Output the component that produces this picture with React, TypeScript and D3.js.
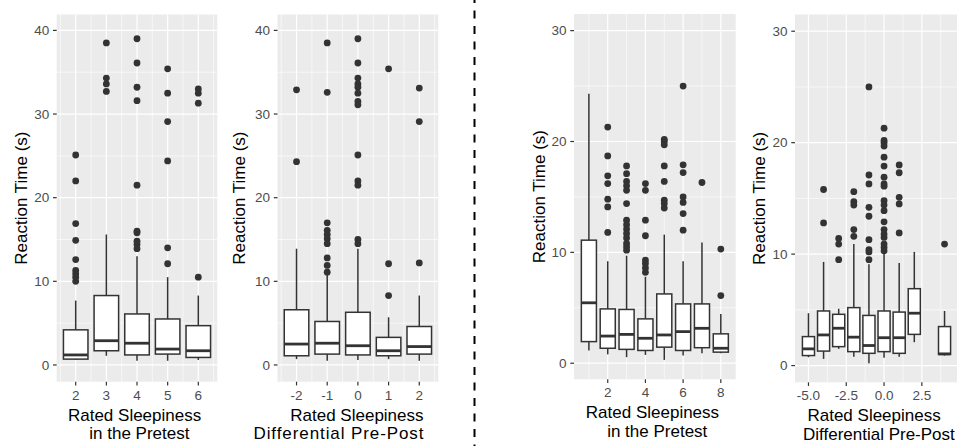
import React from 'react';
import * as d3 from 'd3';

// left figure, panel 1: sleepiness in the pretest
const p1Cats = [2, 3, 4, 5, 6];
const p1Low = [0.6, 1.1, 0.5, 0.5, 0.6];
const p1Q1 = [0.7, 1.7, 1.2, 1.3, 0.9];
const p1Med = [1.2, 2.9, 2.6, 1.9, 1.7];
const p1Q3 = [4.2, 8.3, 6.1, 5.5, 4.7];
const p1High = [7.7, 15.6, 13.0, 10.5, 8.3];
const p1Out = [
  [25.1, 22.0, 16.9, 14.9, 12.6, 11.3, 10.9, 10.5, 10.0],
  [38.5, 34.3, 33.6, 32.7],
  [39.0, 36.1, 33.2, 31.6, 21.5, 16.0, 15.8, 14.8, 14.4, 13.9],
  [35.4, 32.5, 29.1, 24.4, 14.0, 12.1],
  [33.0, 32.5, 31.3, 10.5],
];

// left figure, panel 2: differential pre-post
const p2Cats = [-2, -1, 0, 1, 2];
const p2Low = [0.7, 0.5, 0.6, 0.7, 0.5];
const p2Q1 = [1.1, 1.3, 1.2, 1.1, 1.3];
const p2Med = [2.5, 2.6, 2.3, 1.7, 2.2];
const p2Q3 = [6.6, 5.2, 6.3, 3.3, 4.6];
const p2High = [13.9, 10.8, 13.9, 5.7, 8.3];
const p2Out = [
  [32.9, 24.3],
  [38.5, 32.6, 17.0, 16.1, 15.6, 15.1, 14.5, 12.8, 11.9, 11.1],
  [39.0, 36.1, 34.3, 33.6, 33.2, 32.5, 31.5, 31.1, 25.1, 22.0, 21.5, 15.0, 14.5],
  [35.4, 12.1, 8.3],
  [33.1, 29.1, 12.2],
];

// right figure, panel 3: sleepiness in the pretest
const p3Cats = [1, 2, 3, 4, 5, 6, 7, 8];
const p3Low = [1.15, 0.8, 0.55, 0.75, 0.3, 0.7, 0.9, 0.9];
const p3Q1 = [1.95, 1.35, 1.25, 1.15, 1.45, 1.15, 1.4, 1.0];
const p3Med = [5.45, 2.45, 2.6, 2.25, 2.55, 2.85, 3.15, 1.35];
const p3Q3 = [11.1, 4.9, 4.85, 4.0, 6.25, 5.35, 5.35, 2.65];
const p3High = [24.3, 9.2, 9.7, 7.8, 11.6, 9.2, 10.9, 4.45];
const p3Out = [
  [],
  [21.3, 18.7, 16.9, 16.2, 14.8, 14.1, 11.8],
  [17.8, 17.1, 16.4, 16.0, 15.6, 14.4, 12.9, 12.5, 12.1, 11.7, 11.3, 10.8, 10.5, 10.2],
  [16.2, 15.6, 12.9, 11.5, 9.3, 9.0, 8.6, 8.2],
  [20.2, 20.0, 19.7, 17.8, 16.4, 14.7, 14.4, 14.0],
  [25.0, 17.9, 17.2, 15.0, 14.5, 13.5, 12.0],
  [16.3],
  [10.3, 6.1],
];

// right figure, panel 4: differential pre-post
const p4Cats = [-5, -4, -3, -2, -1, 0, 1, 2, 4];
const p4Low = [0.75, 0.6, 1.5, 0.8, 0.2, 0.7, 0.8, 2.1, 0.9];
const p4Q1 = [0.9, 1.3, 1.7, 1.25, 1.1, 1.25, 1.1, 2.8, 1.0];
const p4Med = [1.5, 2.75, 3.35, 2.55, 1.8, 2.5, 2.5, 4.7, 1.05];
const p4Q3 = [2.6, 4.9, 4.6, 5.2, 4.5, 4.9, 4.8, 6.9, 3.5];
const p4High = [4.7, 9.3, 5.1, 10.9, 9.1, 10.1, 9.2, 10.2, 4.9];
const p4Out = [
  [],
  [15.8, 12.8],
  [11.4, 10.9, 9.5],
  [15.6, 14.7, 14.4, 12.2, 11.6],
  [25.0, 17.1, 16.3, 14.2, 13.4, 11.3, 10.4, 10.2, 9.5],
  [21.3, 20.2, 20.0, 19.7, 18.7, 17.9, 16.9, 16.3, 16.1, 14.8, 14.4, 13.9, 12.9, 12.2, 11.8, 11.5, 10.9, 10.6, 10.3],
  [18.0, 17.3, 15.1, 14.5, 11.9],
  [],
  [10.9],
];

const p1XTicks = [2, 3, 4, 5, 6];
const p2XTicks = [-2, -1, 0, 1, 2];
const p3XTicks = [2, 4, 6, 8];
const p4XTicks = [-5, -2.5, 0, 2.5];
const leftYTicks = [0, 10, 20, 30, 40];
const rightYTicks = [0, 10, 20, 30];

const yTitle = 'Reaction Time (s)';
const titlePretest = ['Rated Sleepiness', 'in the Pretest'];
const titleDiff = ['Rated Sleepiness', 'Differential Pre-Post'];

const W = 957;
const H = 446;
const FONT = "'Liberation Sans', Arial, Helvetica, sans-serif";
const INK = '#333333';

const intFmt = (d: number) => String(d);
const decFmt = (d: number) => d.toFixed(1);

function minors(ticks: number[], domain: number[]) {
  const step = ticks[1] - ticks[0];
  const out: number[] = [];
  for (let v = ticks[0] - step / 2; v <= ticks[ticks.length - 1] + step / 2 + 1e-9; v += step) {
    if (v > domain[0] && v < domain[1]) out.push(v);
  }
  return out;
}

const panels = [
  { cats: p1Cats, low: p1Low, q1: p1Q1, med: p1Med, q3: p1Q3, high: p1High, out: p1Out,
    xTicks: p1XTicks, fmt: intFmt, yTicks: leftYTicks, xDomain: [1.38, 6.62], yDomain: [-2, 41.9],
    left: 56.7, right: 217.3, top: 14.5, bottom: 381.7, yTitleX: 21, title: titlePretest,
    titleDx: [-2.4, 2.4], titleLen: [0, 0] },
  { cats: p2Cats, low: p2Low, q1: p2Q1, med: p2Med, q3: p2Q3, high: p2High, out: p2Out,
    xTicks: p2XTicks, fmt: intFmt, yTicks: leftYTicks, xDomain: [-2.62, 2.62], yDomain: [-2, 41.9],
    left: 277.5, right: 438.3, top: 14.5, bottom: 381.7, yTitleX: 239, title: titleDiff,
    titleDx: [-1, -19.4], titleLen: [0, 170] },
  { cats: p3Cats, low: p3Low, q1: p3Q1, med: p3Med, q3: p3Q3, high: p3High, out: p3Out,
    xTicks: p3XTicks, fmt: intFmt, yTicks: rightYTicks, xDomain: [0.21, 8.79], yDomain: [-1.45, 31.5],
    left: 574, right: 735.7, top: 14, bottom: 379.3, yTitleX: 539, title: titlePretest,
    titleDx: [-2.4, 2.4], titleLen: [0, 0] },
  { cats: p4Cats, low: p4Low, q1: p4Q1, med: p4Med, q3: p4Q3, high: p4High, out: p4Out,
    xTicks: p4XTicks, fmt: decFmt, yTicks: rightYTicks, xDomain: [-5.89, 4.89], yDomain: [-1.5, 31.5],
    left: 795, right: 958, top: 14.5, bottom: 382.3, yTitleX: 759, title: titleDiff,
    titleDx: [-2.4, 2.4], titleLen: [0, 0] },
];

function Panel({ p }: { p: any }) {
  const x = d3.scaleLinear().domain(p.xDomain).range([p.left, p.right]);
  const y = d3.scaleLinear().domain(p.yDomain).range([p.bottom, p.top]);
  const bw = (x(1) - x(0)) * 0.8;
  const cx = (p.left + p.right) / 2;
  const cy = (p.top + p.bottom) / 2;

  return (
    <g>
      <rect x={p.left} y={p.top} width={p.right - p.left} height={p.bottom - p.top} fill="#EBEBEB" />
      {minors(p.yTicks, p.yDomain).map((v: number) => (
        <line key={'ym' + v} x1={p.left} x2={p.right} y1={y(v)} y2={y(v)} stroke="#fff" strokeWidth={0.6} />
      ))}
      {minors(p.xTicks, p.xDomain).map((v: number) => (
        <line key={'xm' + v} x1={x(v)} x2={x(v)} y1={p.top} y2={p.bottom} stroke="#fff" strokeWidth={0.6} />
      ))}
      {p.yTicks.map((v: number) => (
        <line key={'yg' + v} x1={p.left} x2={p.right} y1={y(v)} y2={y(v)} stroke="#fff" strokeWidth={1.2} />
      ))}
      {p.xTicks.map((v: number) => (
        <line key={'xg' + v} x1={x(v)} x2={x(v)} y1={p.top} y2={p.bottom} stroke="#fff" strokeWidth={1.2} />
      ))}

      {p.cats.map((c: number, i: number) => (
        <g key={'b' + c}>
          <line x1={x(c)} x2={x(c)} y1={y(p.high[i])} y2={y(p.q3[i])} stroke={INK} strokeWidth={1.5} />
          <line x1={x(c)} x2={x(c)} y1={y(p.q1[i])} y2={y(p.low[i])} stroke={INK} strokeWidth={1.5} />
          <rect x={x(c) - bw / 2} y={y(p.q3[i])} width={bw} height={y(p.q1[i]) - y(p.q3[i])}
            fill="#fff" stroke={INK} strokeWidth={1.5} />
          <line x1={x(c) - bw / 2} x2={x(c) + bw / 2} y1={y(p.med[i])} y2={y(p.med[i])} stroke={INK} strokeWidth={2.8} />
          {p.out[i].map((v: number, j: number) => (
            <circle key={j} cx={x(c)} cy={y(v)} r={3.4} fill={INK} />
          ))}
        </g>
      ))}

      {p.yTicks.map((v: number) => (
        <g key={'yt' + v}>
          <line x1={p.left - 3.7} x2={p.left} y1={y(v)} y2={y(v)} stroke={INK} strokeWidth={1.2} />
          <text x={p.left - 7.5} y={y(v)} dy="0.35em" textAnchor="end" fontSize={13.5} fill="#4D4D4D">{v}</text>
        </g>
      ))}
      {p.xTicks.map((v: number) => (
        <g key={'xt' + v}>
          <line x1={x(v)} x2={x(v)} y1={p.bottom} y2={p.bottom + 3.7} stroke={INK} strokeWidth={1.2} />
          <text x={x(v)} y={p.bottom + 13.3} dy="0.35em" textAnchor="middle" fontSize={13.5} fill="#4D4D4D">{p.fmt(v)}</text>
        </g>
      ))}

      <text transform={`translate(${p.yTitleX},${cy}) rotate(-90)`} dy="0.35em" textAnchor="middle" fontSize={17} fill="#000">
        {yTitle}
      </text>
      {p.title.map((t: string, k: number) => (
        <text key={t} x={cx + p.titleDx[k]} y={p.bottom + 33 + k * 18.3} dy="0.35em" textAnchor="middle"
          fontSize={17} fill="#000"
          {...(p.titleLen[k] ? { textLength: p.titleLen[k], lengthAdjust: 'spacing' } : {})}>
          {t}
        </text>
      ))}
    </g>
  );
}

export default function App() {
  return (
    <svg width={W} height={H} style={{ position: 'absolute', left: 0, top: 0, background: '#fff', fontFamily: FONT }}>
      {panels.map((p, i) => <Panel key={i} p={p} />)}
      <line x1={474.5} x2={474.5} y1={0} y2={H} stroke="#000" strokeWidth={2} strokeDasharray="8 7.5" strokeDashoffset={5} />
    </svg>
  );
}
